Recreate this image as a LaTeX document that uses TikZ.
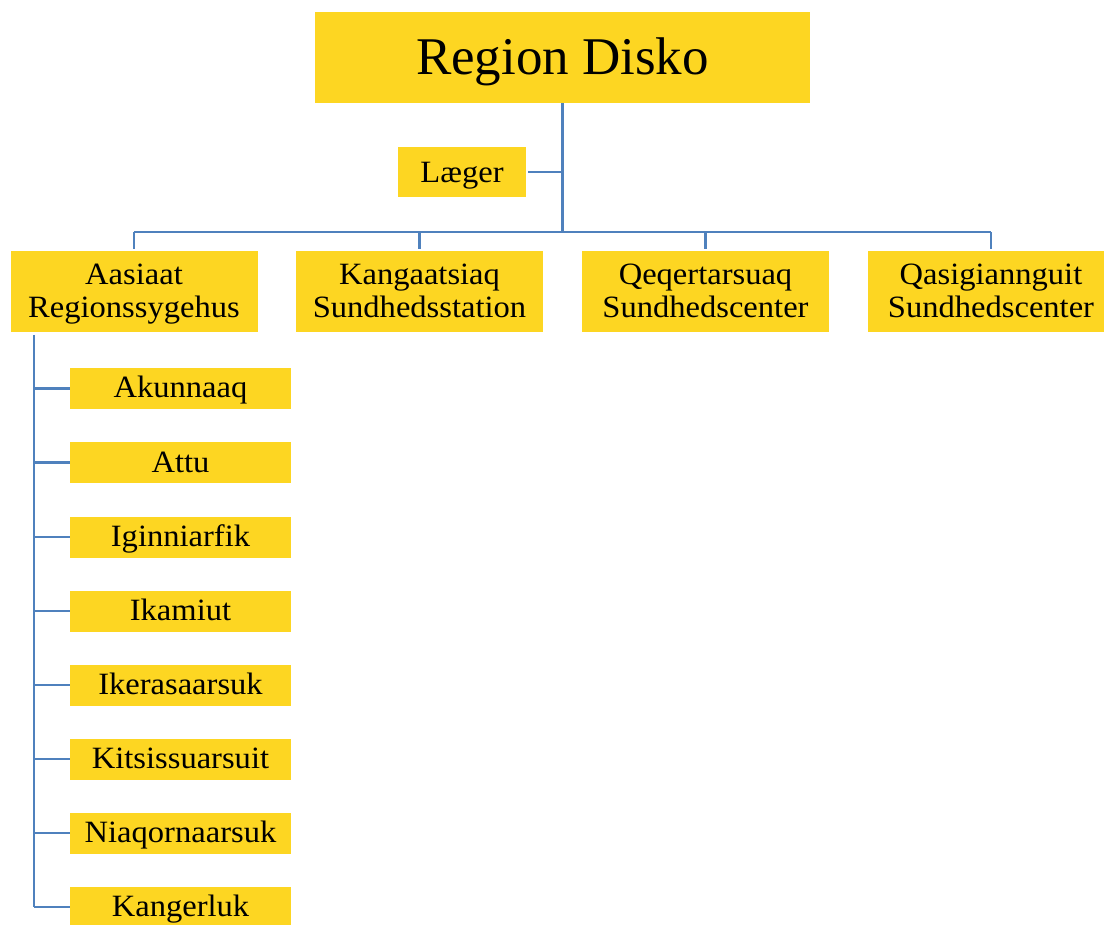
\documentclass[tikz,border=0pt]{standalone}
\usepackage{fontspec}
\setmainfont{Liberation Serif}[FakeStretch=1.05]
\newfontfamily\topfont{Liberation Serif}
\definecolor{boxyellow}{HTML}{FDD622}
\definecolor{linkblue}{HTML}{4F81BD}
\tikzset{
  ybox/.style={fill=boxyellow, draw=none, inner sep=0pt, align=center, text=black},
  topbox/.style={ybox, minimum width=495pt, minimum height=91pt, text height=35pt, text depth=0pt, font=\topfont\fontsize{53}{56}\selectfont},
  laegerbox/.style={ybox, minimum width=128pt, minimum height=50pt, text height=22pt, text depth=0pt, font=\fontsize{31}{33}\selectfont},
  lvlbox/.style={ybox, minimum width=247pt, minimum height=81pt, text height=55pt, text depth=2pt, font=\fontsize{31}{33}\selectfont},
  kidbox/.style={ybox, minimum width=221pt, minimum height=41pt, text height=21pt, text depth=2pt, font=\fontsize{31}{33}\selectfont},
  link/.style={draw=linkblue, line width=2.8pt},
  thinlink/.style={draw=linkblue, line width=2.2pt},
}
\begin{document}
\begin{tikzpicture}[x=1pt,y=-1pt]
\useasboundingbox (0,0) rectangle (1104,925);
\clip (0,0) rectangle (1104,925);
% boxes
\node[topbox] (top) at (562.5,57.5) {Region Disko};
\node[laegerbox] (laeger) at (462,172) {Læger};
\node[lvlbox] (a) at (134,291.5) {Aasiaat\\Regionssygehus};
\node[lvlbox] (b) at (419.5,291.5) {Kangaatsiaq\\Sundhedsstation};
\node[lvlbox] (c) at (705.5,291.5) {Qeqertarsuaq\\Sundhedscenter};
\node[lvlbox] (d) at (991,291.5) {Qasigiannguit\\Sundhedscenter};
\node[kidbox] (k1) at (180.5,388.5) {Akunnaaq};
\node[kidbox] (k2) at (180.5,462.5) {Attu};
\node[kidbox] (k3) at (180.5,537) {Iginniarfik};
\node[kidbox] (k4) at (180.5,611) {Ikamiut};
\node[kidbox] (k5) at (180.5,685) {Ikerasaarsuk};
\node[kidbox] (k6) at (180.5,759) {Kitsissuarsuit};
\node[kidbox] (k7) at (180.5,833) {Niaqornaarsuk};
\node[kidbox] (k8) at (180.5,907) {Kangerluk};
% connectors
\coordinate (busL) at (134,232);
\coordinate (busR) at (991,232);
\draw[thinlink] (busL) -- (busR);
\draw[link] (top.south) -- (top.south |- busL);
\draw[thinlink, shorten <=2pt] (laeger.east) -- (laeger.east -| top.south);
\foreach \n in {a,b,c,d}{
  \draw[thinlink, shorten <=2pt] (\n.north) -- (\n.north |- busL);
}
\coordinate (spine) at (34,335);
\draw[link] (spine) -- (spine |- k8.west);
\foreach \n in {k1,k2,k3,k4,k5,k6,k7,k8}{
  \draw[thinlink] (spine |- \n.west) -- (\n.west);
}
\end{tikzpicture}
\end{document}
